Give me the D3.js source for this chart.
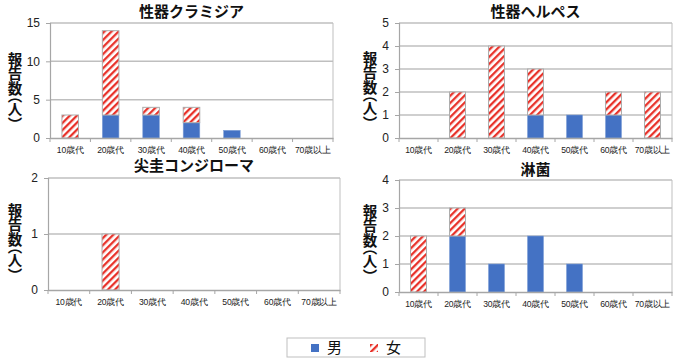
<!DOCTYPE html>
<html>
<head>
<meta charset="utf-8">
<script src="https://cdn.jsdelivr.net/npm/d3@7"></script>
<style>
  body { margin: 0; background: #fff; }
  svg { display: block; font-family: "Noto Sans CJK JP", "Noto Sans", sans-serif; }
  .ylab { writing-mode: vertical-rl; font-feature-settings: "vhal" 1; }
</style>
</head>
<body>
<div id="chart"></div>
<script>
// data
const ageGroups = ["10歳代", "20歳代", "30歳代", "40歳代", "50歳代", "60歳代", "70歳以上"];

const chlamydiaMale   = [0, 3, 3, 2, 1, 0, 0];
const chlamydiaFemale = [3, 11, 1, 2, 0, 0, 0];
const herpesMale      = [0, 0, 0, 1, 1, 1, 0];
const herpesFemale    = [0, 2, 4, 2, 0, 1, 2];
const condylomaMale   = [0, 0, 0, 0, 0, 0, 0];
const condylomaFemale = [0, 1, 0, 0, 0, 0, 0];
const gonorrheaMale   = [0, 2, 1, 2, 1, 0, 0];
const gonorrheaFemale = [2, 1, 0, 0, 0, 0, 0];

const chlamydiaTicks = [0, 5, 10, 15];
const herpesTicks    = [0, 1, 2, 3, 4, 5];
const condylomaTicks = [0, 1, 2];
const gonorrheaTicks = [0, 1, 2, 3, 4];

const titles = ["性器クラミジア", "性器ヘルペス", "尖圭コンジローマ", "淋菌"];
const yLabel = "報告数（人）";
const legendLabels = ["男", "女"];

const W = 699, H = 363;
const blue = "#4472C4";

const svg = d3.select("#chart").append("svg")
  .attr("width", W)
  .attr("height", H);

// hatch for female
const defs = svg.append("defs");
const pat = defs.append("pattern")
  .attr("id", "hatch")
  .attr("patternUnits", "userSpaceOnUse")
  .attr("width", 5)
  .attr("height", 5)
  .attr("patternTransform", "rotate(45)");
pat.append("rect").attr("width", 5).attr("height", 5).attr("fill", "#fff");
pat.append("rect").attr("width", 2.3).attr("height", 5).attr("fill", "#E8322A");

const panels = [
  { title: titles[0], male: chlamydiaMale, female: chlamydiaFemale, ticks: chlamydiaTicks,
    left: 50, right: 333, top: 23, bottom: 138, titleY: 17, labelX: 15, labelY: 88 },
  { title: titles[1], male: herpesMale, female: herpesFemale, ticks: herpesTicks,
    left: 399, right: 672, top: 23, bottom: 138, titleY: 17, labelX: 370, labelY: 87 },
  { title: titles[2], male: condylomaMale, female: condylomaFemale, ticks: condylomaTicks,
    left: 48, right: 340, top: 178, bottom: 290, titleY: 171, labelX: 15, labelY: 239 },
  { title: titles[3], male: gonorrheaMale, female: gonorrheaFemale, ticks: gonorrheaTicks,
    left: 399, right: 672, top: 180, bottom: 292, titleY: 175, labelX: 370, labelY: 240 }
];

panels.forEach(p => {
  const g = svg.append("g");

  const x = d3.scaleBand()
    .domain(ageGroups)
    .range([p.left, p.right])
    .paddingInner(0.59)
    .paddingOuter(0.295);

  const y = d3.scaleLinear()
    .domain([0, d3.max(p.ticks)])
    .range([p.bottom, p.top]);

  // gridlines
  g.selectAll(".grid")
    .data(p.ticks.slice(1))
    .enter().append("line")
    .attr("x1", p.left).attr("x2", p.right)
    .attr("y1", d => y(d)).attr("y2", d => y(d))
    .attr("stroke", "#BFBFBF")
    .attr("stroke-width", 1.5);

  // right border
  g.append("line")
    .attr("x1", p.right).attr("x2", p.right)
    .attr("y1", p.top).attr("y2", p.bottom)
    .attr("stroke", "#BFBFBF")
    .attr("stroke-width", 1);

  // bars
  const rows = ageGroups.map((a, i) => ({ age: a, m: p.male[i], f: p.female[i] }));

  g.selectAll(".male")
    .data(rows.filter(d => d.m > 0))
    .enter().append("rect")
    .attr("x", d => x(d.age))
    .attr("width", x.bandwidth())
    .attr("y", d => y(d.m))
    .attr("height", d => y(0) - y(d.m))
    .attr("fill", blue)
    .attr("stroke", "#7F9FD6")
    .attr("stroke-width", 0.6);

  g.selectAll(".female")
    .data(rows.filter(d => d.f > 0))
    .enter().append("rect")
    .attr("x", d => x(d.age))
    .attr("width", x.bandwidth())
    .attr("y", d => y(d.m + d.f))
    .attr("height", d => y(d.m) - y(d.m + d.f))
    .attr("fill", "url(#hatch)")
    .attr("stroke", "#ADADAD")
    .attr("stroke-width", 1);

  // y axis
  const yAxis = g.append("g")
    .attr("transform", `translate(${p.left},0)`)
    .call(d3.axisLeft(y).tickValues(p.ticks).tickSize(4).tickPadding(6).tickFormat(d3.format("d")));
  yAxis.select(".domain").attr("stroke", "#A6A6A6").attr("stroke-width", 1.2);
  yAxis.selectAll(".tick line").attr("stroke", "#A6A6A6");
  yAxis.selectAll("text").attr("font-size", 12).attr("fill", "#222");

  // x axis
  const xAxis = g.append("g")
    .attr("transform", `translate(0,${p.bottom})`)
    .call(d3.axisBottom(x).tickSize(0).tickPadding(9));
  xAxis.select(".domain").attr("stroke", "#A6A6A6").attr("stroke-width", 1.5);
  xAxis.selectAll("text")
    .attr("font-size", 8.6)
    .attr("letter-spacing", -0.2)
    .attr("fill", "#222");

  // category boundary ticks
  const bounds = d3.range(ageGroups.length + 1).map(i => p.left + i * (p.right - p.left) / ageGroups.length);
  g.selectAll(".bt")
    .data(bounds)
    .enter().append("line")
    .attr("x1", d => d).attr("x2", d => d)
    .attr("y1", p.bottom).attr("y2", p.bottom + 4)
    .attr("stroke", "#A6A6A6");

  // title
  g.append("text")
    .attr("x", (p.left + p.right) / 2)
    .attr("y", p.titleY)
    .attr("text-anchor", "middle")
    .attr("font-size", 15)
    .attr("font-weight", "bold")
    .attr("fill", "#111")
    .text(p.title);

  // y label, vertical
  g.append("text")
    .attr("class", "ylab")
    .attr("x", p.labelX)
    .attr("y", p.labelY)
    .attr("text-anchor", "middle")
    .attr("font-size", 14.5)
    .attr("font-weight", "bold")
    .attr("fill", "#111")
    .text(yLabel);
});

// legend
const lg = svg.append("g");
lg.append("rect")
  .attr("x", 287).attr("y", 338)
  .attr("width", 138).attr("height", 19)
  .attr("fill", "#fff")
  .attr("stroke", "#BFBFBF");
lg.append("rect")
  .attr("x", 311).attr("y", 344)
  .attr("width", 8).attr("height", 8)
  .attr("fill", blue);
lg.append("text")
  .attr("x", 327).attr("y", 353)
  .attr("font-size", 15)
  .attr("fill", "#111")
  .text(legendLabels[0]);
lg.append("rect")
  .attr("x", 370).attr("y", 344)
  .attr("width", 8).attr("height", 8)
  .attr("fill", "url(#hatch)");
lg.append("text")
  .attr("x", 386).attr("y", 353)
  .attr("font-size", 15)
  .attr("fill", "#111")
  .text(legendLabels[1]);
</script>
</body>
</html>
